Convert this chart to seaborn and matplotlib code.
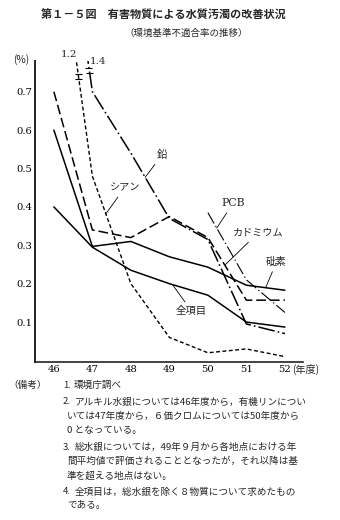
import numpy as np
import pandas as pd
import matplotlib
matplotlib.use("Agg")
import matplotlib.pyplot as plt
import seaborn as sns

# 年度
years = [46, 47, 48, 49, 50, 51, 52]
# 環境基準不適合率 (%)
lead = [1.4, 0.70, 0.54, 0.37, 0.315, 0.095, 0.07]          # 鉛
cyanide = [1.2, 0.48, 0.20, 0.06, 0.02, 0.03, 0.01]         # シアン
cadmium = [0.70, 0.34, 0.32, 0.375, 0.32, 0.157, 0.157]     # カドミウム
arsenic = [0.60, 0.297, 0.31, 0.27, 0.243, 0.196, 0.183]    # 砒素
all_items = [0.40, 0.295, 0.235, 0.20, 0.17, 0.10, 0.087]   # 全項目
pcb_years = [50, 51, 52]
pcb = [0.385, 0.21, 0.125]                                  # PCB

x_ticks = [46, 47, 48, 49, 50, 51, 52]
y_ticks = [0.1, 0.2, 0.3, 0.4, 0.5, 0.6, 0.7]

sns.set_theme(style="white")
plt.rcParams["font.family"] = ["Noto Sans CJK JP", "DejaVu Sans"]
plt.rcParams["lines.scale_dashes"] = False

frames = [
    pd.DataFrame({"年度": years, "率": lead, "項目": "鉛"}),
    pd.DataFrame({"年度": years, "率": cyanide, "項目": "シアン"}),
    pd.DataFrame({"年度": years, "率": cadmium, "項目": "カドミウム"}),
    pd.DataFrame({"年度": years, "率": arsenic, "項目": "砒素"}),
    pd.DataFrame({"年度": years, "率": all_items, "項目": "全項目"}),
    pd.DataFrame({"年度": pcb_years, "率": pcb, "項目": "PCB"}),
]
df = pd.concat(frames, ignore_index=True)

styles = {
    "鉛": dict(lw=1.1, linestyle=(0, (12, 2.2, 1.2, 2.2))),
    "シアン": dict(lw=1.0, linestyle=(0, (2.8, 1.8))),
    "カドミウム": dict(lw=1.1, linestyle=(0, (7, 2.8))),
    "砒素": dict(lw=1.1, linestyle="-"),
    "全項目": dict(lw=1.1, linestyle="-"),
    "PCB": dict(lw=0.8, linestyle=(0, (9, 2, 1, 2))),
}

fig = plt.figure(figsize=(3.4, 5.2), dpi=100)
ax = fig.add_axes([35 / 340, 1 - 362 / 520, 268 / 340, 301 / 520])

for name, st in styles.items():
    sub = df[df["項目"] == name]
    sns.lineplot(data=sub, x="年度", y="率", ax=ax, color="black",
                 estimator=None, errorbar=None, legend=False, **st)

ax.set_xlim(45.51, 52.47)
ax.set_ylim(-0.004, 0.78)
ax.set_xlabel("")
ax.set_ylabel("")
ax.set_xticks(x_ticks)
ax.set_xticklabels([str(v) for v in x_ticks], fontfamily="DejaVu Serif", fontsize=7.2)
ax.set_yticks(y_ticks)
ax.set_yticklabels([f"{v:.1f}" for v in y_ticks], fontfamily="DejaVu Serif", fontsize=7.2)
ax.tick_params(direction="in", length=3, width=0.8, colors="black", pad=2)
for side in ("top", "right"):
    ax.spines[side].set_visible(False)
ax.spines["left"].set_linewidth(1.4)
ax.spines["bottom"].set_linewidth(1.2)
ax.spines["left"].set_color("#222222")
ax.spines["bottom"].set_color("#222222")

top = ax.get_ylim()[1]


def cross_year(vals, level):
    # first segment crossing the given level, going downward
    for i in range(len(vals) - 1):
        a, b = vals[i], vals[i + 1]
        if a >= level >= b:
            return years[i] + (a - level) / (a - b)
    return years[0]


# values beyond the scale: value label and break marks on the line
for vals, dx, dy, breaks in ((cyanide, -5.4, 5.0, (0.746, 0.733)),
                             (lead, 7.0, 0.0, (0.762, 0.748))):
    xc = cross_year(vals, top)
    ax.annotate(f"{vals[0]:.1f}", xy=(xc, top), xytext=(dx, dy),
                textcoords="offset points", ha="center", va="center",
                fontfamily="DejaVu Serif", fontsize=7.5, annotation_clip=False)
    for lvl in breaks:
        xb = cross_year(vals, lvl)
        ax.plot([xb - 0.09, xb + 0.09], [lvl, lvl], color="black", lw=0.8,
                clip_on=False, solid_capstyle="butt")

# series labels with leader lines
labels = [
    ("鉛", lead, years, 48.37, (48.81, 0.535), "Noto Sans CJK JP", 7.5),
    ("シアン", cyanide, years, 47.35, (47.84, 0.45), "Noto Sans CJK JP", 7.3),
    ("PCB", pcb, pcb_years, 50.23, (50.65, 0.409), "DejaVu Serif", 7.8),
    ("カドミウム", cadmium, years, 50.44, (51.3, 0.332), "Noto Sans CJK JP", 7.3),
    ("砒素", arsenic, years, 51.5, (51.78, 0.256), "Noto Sans CJK JP", 7.5),
    ("全項目", all_items, years, 49.08, (49.58, 0.128), "Noto Sans CJK JP", 7.5),
]
for text, vals, xs, xp, pos, fam, size in labels:
    yp = float(np.interp(xp, xs, vals))
    ax.annotate(text, xy=(xp, yp), xytext=pos, ha="center", va="center",
                fontfamily=fam, fontsize=size, annotation_clip=False,
                arrowprops=dict(arrowstyle="-", lw=0.6, color="black",
                                shrinkA=1, shrinkB=0))

ax.annotate("(年度)", xy=(52, 0), xycoords=("data", "axes fraction"),
            xytext=(5.2, -5.2), textcoords="offset points", ha="left",
            va="center", fontsize=7.3, annotation_clip=False)
fig.text(21 / 340, 1 - 60 / 520, "(%)", ha="center", va="center",
         fontsize=7.3)

# heading
fig.text(163 / 340, 1 - 15 / 520, "第１－５図　有害物質による水質汚濁の改善状況",
         ha="center", va="center", fontsize=8, fontweight="bold")
fig.text(186 / 340, 1 - 33 / 520, "（環境基準不適合率の推移）",
         ha="center", va="center", fontsize=6.8)

# notes
notes = [
    (385, 8, "（備考）"),
    (385, 63, "1."),
    (385, 74, "環境庁調べ"),
    (402, 63, "2."),
    (402, 75, "アルキル水銀については46年度から，有機リンについ"),
    (416, 67, "いては47年度から，６価クロムについては50年度から"),
    (430, 67, "0 となっている。"),
    (447, 63, "3."),
    (447, 75, "総水銀については，49年９月から各地点における年"),
    (461, 67, "間平均値で評価されることとなったが，それ以降は基"),
    (476, 67, "準を超える地点はない。"),
    (492, 63, "4."),
    (492, 75, "全項目は，総水銀を除く８物質について求めたもの"),
    (505, 67, "である。"),
]
for py, px, txt in notes:
    fig.text(px / 340, 1 - py / 520, txt, ha="left", va="center", fontsize=6.9)

fig.savefig("out.png", dpi=100, facecolor="white")
